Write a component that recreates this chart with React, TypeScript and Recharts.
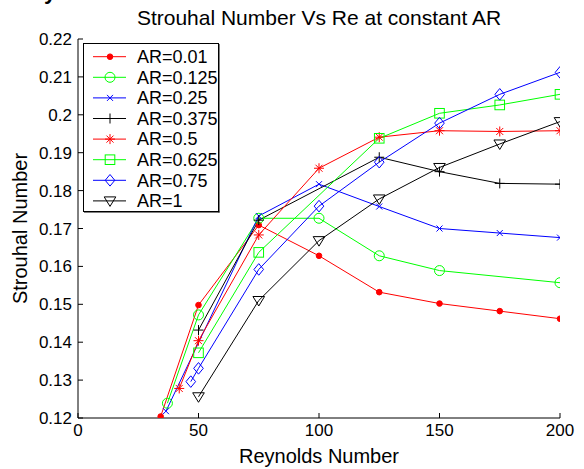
import React from 'react';
import { CartesianGrid, Legend, Line, LineChart, XAxis, YAxis } from 'recharts';

// Reynolds number / Strouhal number pairs per aspect ratio
const reAR001 = [34.3, 50, 75, 100, 125, 150, 175, 200];
const stAR001 = [0.1204, 0.1498, 0.1709, 0.1628, 0.1532, 0.1502, 0.1482, 0.1462];

const reAR0125 = [37.1, 50, 75, 100, 125, 150, 200];
const stAR0125 = [0.1239, 0.1472, 0.1727, 0.1727, 0.1628, 0.1589, 0.1557];

const reAR025 = [36.5, 75, 100, 125, 150, 175, 200];
const stAR025 = [0.1218, 0.1733, 0.1817, 0.1758, 0.17, 0.1688, 0.1676];

const reAR0375 = [50, 75, 125, 150, 175, 200];
const stAR0375 = [0.1432, 0.1722, 0.1888, 0.185, 0.1819, 0.1817];

const reAR05 = [42, 50, 75, 100, 125, 150, 175, 200];
const stAR05 = [0.1278, 0.1404, 0.1683, 0.1859, 0.1941, 0.1958, 0.1956, 0.1958];

const reAR0625 = [50, 75, 125, 150, 175, 200];
const stAR0625 = [0.1372, 0.1637, 0.1938, 0.2004, 0.2026, 0.2054];

const reAR075 = [46.8, 50, 75, 100, 125, 150, 175, 200];
const stAR075 = [0.1296, 0.1331, 0.1592, 0.1759, 0.1875, 0.1978, 0.2054, 0.2112];

const reAR1 = [50, 75, 100, 125, 150, 175, 200];
const stAR1 = [0.1256, 0.151, 0.1668, 0.1778, 0.1861, 0.1923, 0.1982];

const xTicks = [0, 50, 100, 150, 200];
const yTicks = [0.12, 0.13, 0.14, 0.15, 0.16, 0.17, 0.18, 0.19, 0.2, 0.21, 0.22];

const FONT = '"Liberation Sans", Arial, sans-serif';
const TICK_FS = 17;
const LABEL_FS = 20;

type Kind = 'dot' | 'circle' | 'x' | 'plus' | 'star' | 'square' | 'diamond' | 'tri';

const zip = (re: number[], st: number[]) => re.map((x, i) => ({ re: x, st: st[i] }));

const series: { name: string; color: string; kind: Kind; data: { re: number; st: number }[] }[] = [
  { name: 'AR=0.01', color: '#ff0000', kind: 'dot', data: zip(reAR001, stAR001) },
  { name: 'AR=0.125', color: '#00ff00', kind: 'circle', data: zip(reAR0125, stAR0125) },
  { name: 'AR=0.25', color: '#0000ff', kind: 'x', data: zip(reAR025, stAR025) },
  { name: 'AR=0.375', color: '#000000', kind: 'plus', data: zip(reAR0375, stAR0375) },
  { name: 'AR=0.5', color: '#ff0000', kind: 'star', data: zip(reAR05, stAR05) },
  { name: 'AR=0.625', color: '#00ff00', kind: 'square', data: zip(reAR0625, stAR0625) },
  { name: 'AR=0.75', color: '#0000ff', kind: 'diamond', data: zip(reAR075, stAR075) },
  { name: 'AR=1', color: '#000000', kind: 'tri', data: zip(reAR1, stAR1) },
];

function Marker({ cx, cy, kind, color }: { cx: number; cy: number; kind: Kind; color: string }) {
  if (cx == null || cy == null) return null;
  const p = { stroke: color, strokeWidth: 1, fill: 'none' };
  switch (kind) {
    case 'dot':
      return <circle cx={cx} cy={cy} r={2.8} fill={color} stroke={color} />;
    case 'circle':
      return <circle cx={cx} cy={cy} r={5} {...p} />;
    case 'x':
      return (
        <g {...p}>
          <line x1={cx - 3} y1={cy - 3} x2={cx + 3} y2={cy + 3} />
          <line x1={cx - 3} y1={cy + 3} x2={cx + 3} y2={cy - 3} />
        </g>
      );
    case 'plus':
      return (
        <g {...p}>
          <line x1={cx - 5} y1={cy} x2={cx + 5} y2={cy} />
          <line x1={cx} y1={cy - 5} x2={cx} y2={cy + 5} />
        </g>
      );
    case 'star':
      return (
        <g {...p}>
          <line x1={cx - 5} y1={cy} x2={cx + 5} y2={cy} />
          <line x1={cx} y1={cy - 5} x2={cx} y2={cy + 5} />
          <line x1={cx - 3.5} y1={cy - 3.5} x2={cx + 3.5} y2={cy + 3.5} />
          <line x1={cx - 3.5} y1={cy + 3.5} x2={cx + 3.5} y2={cy - 3.5} />
        </g>
      );
    case 'square':
      return <rect x={cx - 4.8} y={cy - 4.8} width={9.6} height={9.6} {...p} />;
    case 'diamond':
      return <polygon points={`${cx},${cy - 5.8} ${cx + 4.8},${cy} ${cx},${cy + 5.8} ${cx - 4.8},${cy}`} {...p} />;
    case 'tri':
      return <polygon points={`${cx - 5.8},${cy - 4} ${cx + 5.8},${cy - 4} ${cx},${cy + 5.5}`} {...p} />;
  }
  return null;
}

function LegendBox() {
  const rowH = 20.6;
  const w = 135;
  const h = 168;
  return (
    <svg width={w + 2} height={h + 2} style={{ display: 'block' }}>
      <rect x={0.5} y={0.5} width={w} height={h} fill="#fff" stroke="#000" strokeWidth={1} />
      <line x1={w + 1} y1={1} x2={w + 1} y2={h + 1.5} stroke="#000" strokeWidth={1} />
      <line x1={1} y1={h + 1} x2={w + 1.5} y2={h + 1} stroke="#000" strokeWidth={1} />
      {series.map((s, i) => {
        const y = 13.7 + i * rowH;
        return (
          <g key={s.name}>
            <line x1={10} y1={y} x2={43} y2={y} stroke={s.color} strokeWidth={1} />
            <Marker cx={27} cy={y} kind={s.kind} color={s.color} />
            <text x={54} y={y + 6.3} fontSize={18} fontFamily={FONT} fill="#000">
              {s.name}
            </text>
          </g>
        );
      })}
    </svg>
  );
}

const fmtY = (v: number) => String(Number(v.toFixed(2)));

export default function App() {
  return (
    <div style={{ position: 'absolute', left: 0, top: 0, width: 584, height: 469, background: '#fff', fontFamily: FONT, overflow: 'hidden' }}>
      {/* clipped tail of a glyph from whatever sat above this figure */}
      <div style={{ position: 'absolute', left: 44, top: -21, fontSize: 22, fontWeight: 'bold', lineHeight: '26px' }}>y</div>
      <div
        style={{
          position: 'absolute',
          left: 78,
          top: 5,
          width: 482,
          textAlign: 'center',
          fontSize: 21,
          lineHeight: '26px',
          color: '#000',
        }}
      >
        Strouhal Number Vs Re at constant AR
      </div>
      <LineChart width={584} height={469} margin={{ top: 39, right: 24, bottom: 11, left: 8 }}>
        <CartesianGrid stroke="none" />
        <XAxis
          dataKey="re"
          type="number"
          domain={[0, 200]}
          ticks={xTicks}
          allowDataOverflow
          stroke="#000"
          height={40}
          tickSize={-5}
          tickMargin={11}
          tick={{ fontSize: TICK_FS, fill: '#000', fontFamily: FONT }}
          label={{
            content: ({ viewBox }: any) => (
              <text
                x={viewBox.x + viewBox.width / 2}
                y={viewBox.y + 45}
                textAnchor="middle"
                fontSize={LABEL_FS}
                fontFamily={FONT}
                fill="#000"
              >
                Reynolds Number
              </text>
            ),
          }}
        />
        <YAxis
          dataKey="st"
          type="number"
          domain={[0.12, 0.22]}
          ticks={yTicks}
          allowDataOverflow
          tickFormatter={fmtY}
          stroke="#000"
          width={70}
          tickSize={-5}
          tickMargin={11}
          tick={{ fontSize: TICK_FS, fill: '#000', fontFamily: FONT }}
          label={{
            content: ({ viewBox }: any) => {
              const x = 27;
              const y = viewBox.y + viewBox.height / 2;
              return (
                <text
                  x={x}
                  y={y}
                  transform={`rotate(-90 ${x} ${y})`}
                  textAnchor="middle"
                  fontSize={LABEL_FS}
                  fontFamily={FONT}
                  fill="#000"
                >
                  Strouhal Number
                </text>
              );
            },
          }}
        />
        <Legend
          layout="vertical"
          align="center"
          verticalAlign="middle"
          content={() => <LegendBox />}
          wrapperStyle={{ left: 83, top: 43, width: 'auto', height: 'auto' }}
        />
        {series.map((s) => (
          <Line
            key={s.name}
            data={s.data}
            dataKey="st"
            name={s.name}
            stroke={s.color}
            strokeWidth={1}
            type="linear"
            isAnimationActive={false}
            legendType="none"
            dot={(props: any) => (
              <Marker key={`${s.name}-${props.index}`} cx={props.cx} cy={props.cy} kind={s.kind} color={s.color} />
            )}
            activeDot={false}
          />
        ))}
      </LineChart>
    </div>
  );
}
